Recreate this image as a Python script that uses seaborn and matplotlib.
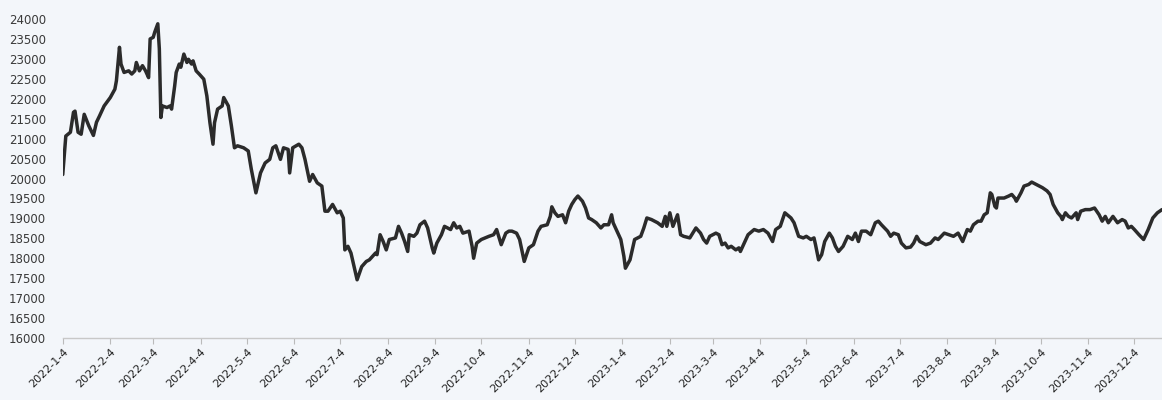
import pandas as pd
import matplotlib
matplotlib.use('Agg')
import matplotlib.pyplot as plt
import seaborn as sns

# calendar days counted from 2022-1-4, and the price
day_offset = [
    0, 2, 5, 7, 8, 10, 12, 14, 17, 19, 20, 22, 24, 27, 31, 34, 35, 37, 38, 40,
    43, 45, 47, 48, 50, 52, 54, 56, 57, 59, 60, 62, 63, 64, 65, 68, 70, 71, 73, 74,
    76, 77, 79, 81, 82, 84, 85, 87, 89, 92, 94, 96, 98, 99, 101,
    104, 105, 108, 110, 112, 114, 118, 121, 123, 126, 129, 132, 135, 137, 139, 142, 144,
    147, 148, 150, 154, 156, 158, 161, 163, 166, 169, 171, 173, 176, 179, 181, 183, 184,
    186, 188, 192, 195, 198, 200, 204,
    205, 207, 209, 211, 213, 217, 219, 221, 223, 225, 226, 229, 231, 233, 236, 238, 241,
    242, 244, 247, 249, 253, 255, 257, 259, 261, 265, 267, 268, 270, 273, 278, 281, 283,
    285, 286, 289, 291, 293, 296, 298,
    301, 304, 307, 310, 312, 316, 318, 319, 321, 323, 326, 328, 330, 332, 334, 336, 339,
    341, 343, 345, 348, 351, 353, 356, 358, 359, 361, 364, 366, 367, 370, 373, 377, 379,
    381, 384, 388, 391, 393, 394, 396, 398, 401, 403,
    405, 409, 413, 416, 418, 420, 422, 426, 428, 430, 432, 434, 436, 439, 441, 442, 444,
    447, 451, 454, 457, 460, 463, 465, 468, 471, 475, 477, 480, 483, 485, 488, 490, 491,
    493, 495, 497, 500, 502, 504, 506,
    509, 512, 515, 517, 519, 521, 524, 527, 530, 532, 534, 538, 540, 542, 545, 547, 550,
    553, 555, 557, 559, 563, 566, 569, 571, 575, 578, 581, 584, 587, 590, 592, 594, 597,
    599, 601, 603, 605, 606,
    608, 609, 610, 614, 617, 619, 621, 622, 625, 627, 630, 632, 635, 639, 642, 644, 646,
    649, 651, 652, 654, 656, 658, 661, 662, 664, 667, 670, 673, 676, 678, 680, 682, 685,
    688, 691, 693, 695, 697, 699, 702, 705, 708, 711, 714, 717,
]
price = [
    20100, 21065, 21160, 21660, 21690, 21160, 21110, 21610, 21320, 21160, 21080, 21410,
    21570, 21820, 22030, 22240, 22450, 23290, 22870, 22660,
    22700, 22620, 22700, 22910, 22700, 22830, 22700, 22530, 23500, 23540, 23670, 23880,
    23250, 21530, 21820, 21780, 21820, 21740, 22320, 22660,
    22870, 22790, 23120, 22910, 22990, 22870, 22950, 22700, 22620, 22490, 22070, 21400,
    20860, 21400, 21740,
    21820, 22030, 21820, 21320, 20770, 20820, 20770, 20690, 20230, 19640, 20140, 20390,
    20480, 20770, 20820, 20480, 20770,
    20730, 20140, 20770, 20860, 20770, 20480, 19930, 20100, 19890, 19810, 19180, 19180,
    19350, 19140, 19180, 19010, 18210,
    18300, 18130, 17460, 17790, 17920, 17960, 18130,
    18090, 18590, 18420, 18210, 18470, 18510, 18800, 18630, 18420, 18170, 18590, 18550,
    18630, 18840, 18930, 18760, 18260,
    18130, 18380, 18590, 18800, 18720, 18890, 18760, 18800, 18630, 18680, 18300, 18000,
    18380, 18470, 18550, 18590, 18720,
    18470, 18340, 18630, 18680, 18680, 18630, 18470,
    17920, 18260, 18340, 18680, 18800, 18840, 19050, 19290, 19140, 19050, 19090, 18890,
    19180, 19350, 19470, 19560, 19430,
    19260, 19010, 18970, 18890, 18760, 18840, 18840, 19090, 18890, 18720, 18470, 18050,
    17750, 17960, 18470, 18550, 18760,
    19010, 18970, 18890, 18800, 19050, 18800, 19140, 18800, 19090, 18590,
    18550, 18510, 18760, 18630, 18470, 18380, 18550, 18630, 18590, 18340, 18380, 18260,
    18300, 18210, 18260, 18170, 18340,
    18590, 18720, 18680, 18720, 18630, 18420, 18720, 18800, 19140, 19010, 18890, 18550,
    18510, 18550, 18470, 18510, 18340,
    17960, 18090, 18420, 18630, 18510, 18300, 18170,
    18300, 18550, 18470, 18630, 18420, 18680, 18680, 18590, 18890, 18930, 18840, 18680,
    18550, 18630, 18590, 18380, 18260,
    18280, 18380, 18550, 18420, 18340, 18380, 18510, 18470, 18630, 18590, 18550, 18630,
    18420, 18720, 18680, 18840, 18930,
    18930, 19090, 19140, 19640, 19600,
    19300, 19260, 19510, 19510, 19560, 19600, 19510, 19430, 19640, 19810, 19850, 19910,
    19850, 19770, 19690, 19600, 19350,
    19140, 19050, 18970, 19140, 19050, 19010, 19140, 18970, 19180, 19220, 19220, 19260,
    19090, 18930, 19050, 18890, 19050,
    18890, 18970, 18930, 18760, 18800, 18720, 18590, 18470, 18720, 19010, 19140, 19220,
]
start_date = '2022-01-04'
y_ticks = list(range(16000, 24001, 500))

df = pd.DataFrame({
    'date': pd.to_datetime(start_date) + pd.to_timedelta(day_offset, unit='D'),
    'price': price,
})
tick_dates = pd.date_range(start_date, periods=24, freq=pd.DateOffset(months=1))
tick_labels = [f"{d.year}-{d.month}-{d.day}" for d in tick_dates]

sns.set_style('white')
bg = '#f3f6fa'
fig = plt.figure(figsize=(11.62, 4.0), dpi=100, facecolor=bg)
ax = fig.add_axes([0.054, 0.155, 0.946, 0.7975], facecolor=bg)

sns.lineplot(data=df, x='date', y='price', ax=ax, color='#2b2b2b', linewidth=2.5)

ax.set_xlim(df['date'].iloc[0], df['date'].iloc[-1])
ax.set_ylim(16000, 24000)
ax.set_yticks(y_ticks)
ax.set_yticklabels([str(v) for v in y_ticks], fontsize=8.5, color='#3a3a3a')
ax.set_xticks(tick_dates)
ax.set_xticklabels(tick_labels, rotation=45, ha='right', rotation_mode='anchor',
                   fontsize=8, color='#222222', fontweight='medium')
ax.tick_params(axis='y', length=0, pad=12)
ax.tick_params(axis='x', length=4, width=0.8, color='#bbbbbb', direction='out',
               bottom=True, pad=2)
ax.set_xlabel('')
ax.set_ylabel('')
for side in ['top', 'right', 'left']:
    ax.spines[side].set_visible(False)
ax.spines['bottom'].set_color('#c8c8c8')
ax.spines['bottom'].set_linewidth(1.0)
ax.grid(False)

plt.savefig('out.png', dpi=100, facecolor=bg)
